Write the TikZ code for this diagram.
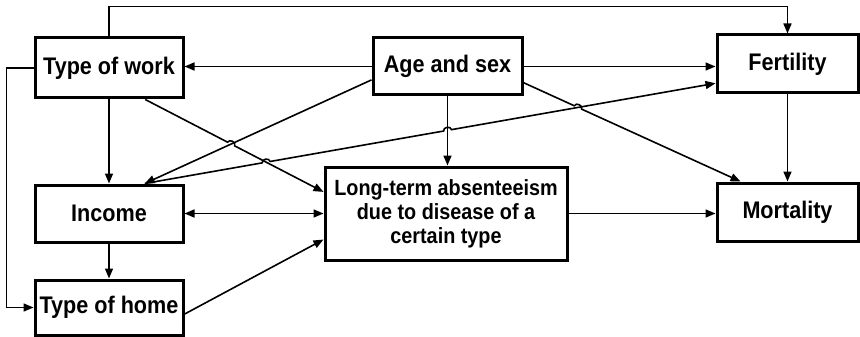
\documentclass[tikz,border=0pt]{standalone}
\usepackage{fontspec}
\setmainfont{Liberation Sans}[FakeStretch=0.9]
\usetikzlibrary{calc, intersections, arrows.meta}

\begin{document}
\begin{tikzpicture}[x=1pt,y=-1pt,
  box/.style={draw,line width=3pt,inner sep=0pt,font=\bfseries\fontsize{24}{24}\selectfont},
  arr/.style={-{Triangle[length=10pt,width=8pt]},line width=1.6pt},
  hop/.style={bend left=90,looseness=1.3}]
  \useasboundingbox (0,0) rectangle (860,337);
  \path (109,68) node[box,minimum width=148pt,minimum height=60pt] (work) {Type of work}
  (447.5,66.5) node[box,minimum width=149pt,minimum height=57pt] (age) {Age and sex}
  (787.5,64) node[box,minimum width=141pt,minimum height=58pt] (fert) {Fertility}
  (109,213.5) node[box,minimum width=148pt,minimum height=57pt] (income) {Income}
  (109,307.5) node[box,minimum width=148pt,minimum height=55pt] (home) {Type of home}
  (446,213.5) node[box,minimum width=242pt,minimum height=93pt,align=center,
    font=\bfseries\fontsize{22}{24}\selectfont] (absent) {Long-term absenteeism\\due to disease of a\\certain type}
  (787.5,212) node[box,minimum width=141pt,minimum height=58pt] (mort) {Mortality};
  % long lines round the outside
  \draw[arr] (work.north) -- ++(0,-30) -| (fert.north);
  \draw[arr] (work.west) -- ++(-27,0) |- (home.west);
  % straight arrows
  \draw[arr] (age.west) -- (age.west -| work.east);
  \draw[arr] (age.east) -- (age.east -| fert.west);
  \draw[arr] (age.south) -- (age.south |- absent.north);
  \draw[arr] (work.south) -- (work.south |- income.north);
  \draw[arr] (income.south) -- (home.north);
  \draw[arr] (fert.south) -- (mort.north);
  \draw[arr] (absent.east) -- (absent.east -| mort.west);
  \draw[arr,{Triangle[length=10pt,width=8pt]}-{Triangle[length=10pt,width=8pt]}] (income.east) -- (absent.west);
  \draw[arr] (home.-5) -- (absent.192);
  \draw[arr] (age.190) -- (income.40);
  % crossing lines with hops
  \path[name path=wa] (work.-41) -- (absent.170);
  \path[name path=ai] (age.190) -- (income.40);
  \path[name path=if] (income.40) -- (fert.195);
  \path[name path=aa] (age.south) -- (age.south |- absent.north);
  \path[name path=am] (age.-12) -- (mort.147);
  \path[name intersections={of=wa and ai,by=c1}];
  \path[name intersections={of=if and wa,by=c2}];
  \path[name intersections={of=if and aa,by=c3}];
  \path[name intersections={of=am and if,by=c4}];
  \draw[arr] (work.-41) -- ($(c1)!4pt!(work.-41)$) to[hop] ($(c1)!4pt!(absent.170)$) -- (absent.170);
  \draw[arr] (income.40) -- ($(c2)!4pt!(income.40)$) to[hop] ($(c2)!4pt!(fert.195)$)
    -- ($(c3)!4pt!(income.40)$) to[hop] ($(c3)!4pt!(fert.195)$) -- (fert.195);
  \draw[arr] (age.-12) -- ($(c4)!4pt!(age.-12)$) to[hop] ($(c4)!4pt!(mort.147)$) -- (mort.147);
\end{tikzpicture}
\end{document}
